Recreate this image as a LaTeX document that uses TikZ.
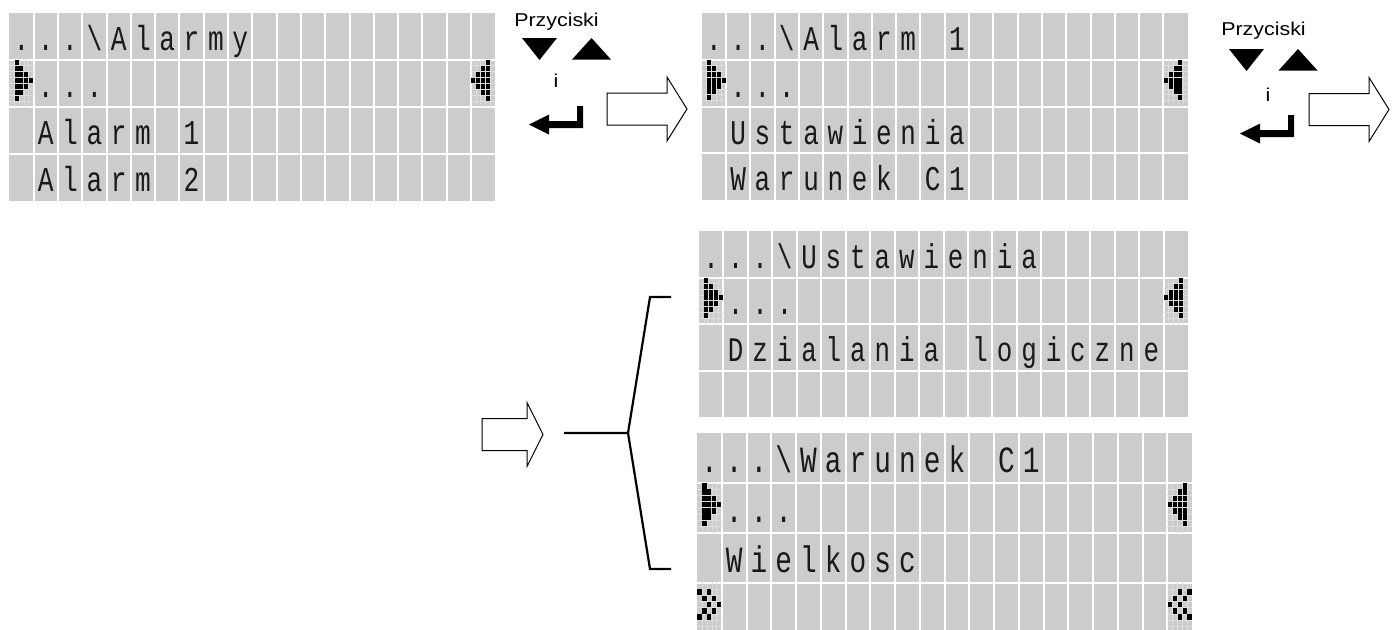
\documentclass[tikz,border=0pt]{standalone}
\usepackage{fontspec}
\setmainfont{Liberation Sans}
\newfontfamily\lcdfont[FakeStretch=0.75]{Liberation Mono}
\newfontfamily\btnfont[FakeStretch=1.15]{Liberation Sans}
\usetikzlibrary{calc}

\definecolor{lcdgray}{RGB}{204,204,204}
\definecolor{lcdfine}{RGB}{222,222,222}
\definecolor{lcdink}{RGB}{25,25,25}

\tikzset{
  lcdsep/.style={white, line width=1pt},
  lcdgrid/.style={draw=lcdfine, line width=0.35pt},
  lcdpix/.style={fill=black},
  lcdchar/.style={anchor=base, inner sep=0pt, text=lcdink, font={\lcdfont\fontsize{\lcdfs pt}{\lcdfs pt}\selectfont}},
  btnlabel/.style={anchor=base, inner sep=0pt, font={\btnfont\fontsize{9.3pt}{9.3pt}\selectfont}},
  blockarr/.style={draw=black, fill=white, line width=0.5pt, line join=miter},
  btnglyph/.style={fill=black},
  brk/.style={draw=black, line width=1.1pt},
}

% panel: name, left, top, cell width, cell height (20 x 4 cells)
\newcommand\lcdpanel[5]{%
  \def\lcdname{#1}\def\lcdx{#2}\def\lcdy{#3}\def\lcdw{#4}\def\lcdh{#5}%
  \pgfmathsetmacro\lcdfs{0.37*#5}%
  \fill[lcdgray] (#2,#3) rectangle ++({20*#4},{4*#5});
  \foreach \k in {1,...,19}{\draw[lcdsep] ({#2+\k*#4},#3) -- ++(0,{4*#5});}
  \foreach \k in {1,2,3}{\draw[lcdsep] (#2,{#3+\k*#5}) -- ++({20*#4},0);}
}
% one line of characters: row, first column, list
\newcommand\lcdrow[3]{%
  \foreach \lcdc [count=\i from #2] in {#3}{%
    \node[lcdchar] (\lcdname-r#1-c\i) at ({\lcdx+(\i+0.5)*\lcdw},{\lcdy+(#1+0.8)*\lcdh}) {\lcdc};
  }%
}
% 5x8 pixel glyph in a cell: column, row, pixel list
\newcommand\lcdglyph[3]{%
  \foreach \k in {1,...,4}{\draw[lcdgrid] ({\lcdx+(#1+\k/5)*\lcdw},{\lcdy+#2*\lcdh}) -- ++(0,\lcdh);}
  \foreach \k in {1,...,7}{\draw[lcdgrid] ({\lcdx+#1*\lcdw},{\lcdy+(#2+\k/8)*\lcdh}) -- ++(\lcdw,0);}
  \foreach \pxr/\pxc in #3{\fill[lcdpix] ({\lcdx+(#1+\pxc/5)*\lcdw+0.4},{\lcdy+(#2+\pxr/8)*\lcdh+0.4}) rectangle ++({\lcdw/5-0.8},{\lcdh/8-0.8});}
}
\def\triright{0/1,1/1,1/2,2/1,2/2,2/3,3/1,3/2,3/3,3/4,4/1,4/2,4/3,5/1,5/2,6/1}
\def\trileft{0/3,1/3,1/2,2/3,2/2,2/1,3/3,3/2,3/1,3/0,4/3,4/2,4/1,5/3,5/2,6/3}
\def\dblright{1/0,1/2,2/1,2/3,3/2,3/4,4/1,4/3,5/0,5/2}
\def\dblleft{1/2,1/4,2/1,2/3,3/0,3/2,4/1,4/3,5/2,5/4}

% hollow block arrow: shaft start, centre line, shaft length, head length
\newcommand\blockarrow[4]{%
  \draw[blockarr] (#1,#2-16) -- ++(#3,0) -- ++(0,-16) -- ++(#4,32) -- ++(-#4,32) -- ++(0,-16) -- ++(-#3,0) -- cycle;
}
\newcommand\downtri[2]{\fill[btnglyph] (#1-17.5,#2) -- (#1+17.5,#2) -- (#1,#2+22) -- cycle;}
\newcommand\uptri[2]{\fill[btnglyph] (#1,#2) -- (#1+19.5,#2+21.5) -- (#1-19.5,#2+21.5) -- cycle;}
% enter key: right edge of bar, bottom
\newcommand\enterkey[2]{%
  \fill[btnglyph] (#1,#2) -- ++(0,-22) -- ++(-6,0) -- ++(0,15) -- ++(-28,0) -- ++(0,-6.5) -- ++(-20,10) -- ++(20,10) -- ++(0,-6.5) -- cycle;
}

\begin{document}
\begin{tikzpicture}[x=0.5pt,y=-0.5pt]
\useasboundingbox (0,0) rectangle (1396,629);
\fill[white] (0,0) rectangle (1396,629);
\clip (0,0) rectangle (1396,629);

% Alarmy
\lcdpanel{p1}{9.3}{12.7}{24.3}{47.1}
\lcdglyph{0}{1}{\triright}
\lcdglyph{19}{1}{\trileft}
\lcdrow{0}{0}{.,.,.,\textbackslash,A,l,a,r,m,y}
\lcdrow{1}{1}{.,.,.}
\lcdrow{2}{1}{A,l,a,r,m,{},1}
\lcdrow{3}{1}{A,l,a,r,m,{},2}

% Alarm 1
\lcdpanel{p2}{701.7}{12.7}{24.3}{46.9}
\lcdglyph{0}{1}{\triright}
\lcdglyph{19}{1}{\trileft}
\lcdrow{0}{0}{.,.,.,\textbackslash,A,l,a,r,m,{},1}
\lcdrow{1}{1}{.,.,.}
\lcdrow{2}{1}{U,s,t,a,w,i,e,n,i,a}
\lcdrow{3}{1}{W,a,r,u,n,e,k,{},C,1}

% Ustawienia
\lcdpanel{p3}{699}{231}{24.45}{46.5}
\lcdglyph{0}{1}{\triright}
\lcdglyph{19}{1}{\trileft}
\lcdrow{0}{0}{.,.,.,\textbackslash,U,s,t,a,w,i,e,n,i,a}
\lcdrow{1}{1}{.,.,.}
\lcdrow{2}{1}{D,z,i,a,l,a,n,i,a,{},l,o,g,i,c,z,n,e}

% Warunek C1
\lcdpanel{p4}{697}{432.7}{24.75}{50}
\lcdglyph{0}{1}{\triright}
\lcdglyph{19}{1}{\trileft}
\lcdglyph{0}{3}{\dblright}
\lcdglyph{19}{3}{\dblleft}
\lcdrow{0}{0}{.,.,.,\textbackslash,W,a,r,u,n,e,k,{},C,1}
\lcdrow{1}{1}{.,.,.}
\lcdrow{2}{1}{W,i,e,l,k,o,s,c}

% buttons between the panels
\node[btnlabel] (btn1) at (556.5,26) {Przyciski};
\downtri{539.5}{38}
\uptri{591.5}{38}
\node[btnlabel] (and1) at (556,87) {i};
\enterkey{583}{128}
\blockarrow{607}{109}{60}{20}

\node[btnlabel] (btn2) at (1263.5,35) {Przyciski};
\downtri{1246.5}{49}
\uptri{1298}{49}
\node[btnlabel] (and2) at (1268,101.7) {i};
\enterkey{1294}{137}
\blockarrow{1309}{109.5}{60}{20}

% arrow and bracket to the sub menus
\blockarrow{482}{434.5}{45}{16}
\coordinate (brk-in) at (564,433);
\coordinate (brk-mid) at (628,433);
\coordinate (brk-top) at (650,297);
\coordinate (brk-topend) at (671,297);
\coordinate (brk-bot) at (650,569);
\coordinate (brk-botend) at (671,569);
\draw[brk] (brk-in) -- (brk-mid) -- (brk-top) -- (brk-topend);
\draw[brk] (brk-mid) -- (brk-bot) -- (brk-botend);
\end{tikzpicture}
\end{document}
